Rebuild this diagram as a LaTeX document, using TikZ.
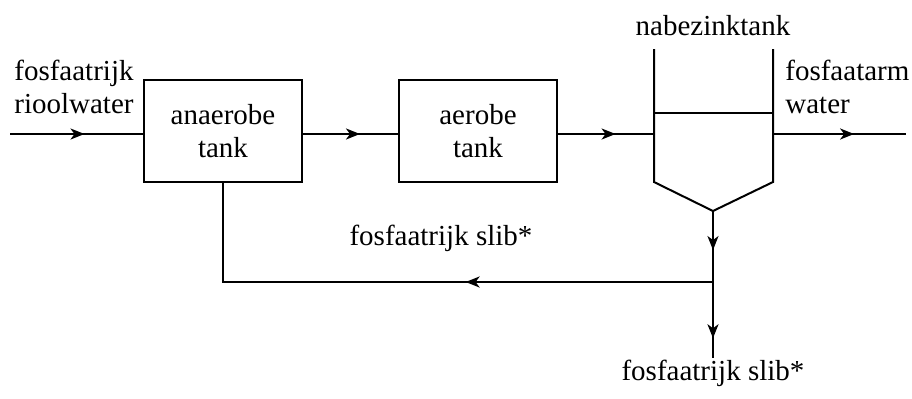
\documentclass[tikz,border=0pt]{standalone}
\usepackage{fontspec}
\setmainfont{Liberation Serif}
\usetikzlibrary{arrows.meta,decorations.markings}
\tikzset{
  tank/.style={draw,line width=1pt,minimum width=79pt,minimum height=51pt,align=center,inner sep=0pt},
  tekst/.style={inner sep=0pt,align=left},
  leiding/.style={line width=1pt},
  pijl/.style={postaction={decorate},decoration={markings,mark=at position #1 with {\arrow{Stealth[length=7pt,width=5.5pt,inset=2pt]}}}}
}
\newcommand{\punt}[2]{\coordinate (#1) at (#2);}

\begin{document}
\begin{tikzpicture}[x=0.5pt,y=-0.5pt,font=\fontsize{14.5}{16.5}\selectfont]
    \useasboundingbox (0,0) rectangle (912,398);
      % tanks
      \node[tank] (ana) at (223,131) {anaerobe\\tank};
      \node[tank] (aer) at (478,131) {aerobe\\tank};

      % nabezinktank
      \punt{nl}{654,49};
      \punt{nr}{773,49};
      \punt{nlb}{654,182};
      \punt{nrb}{773,182};
      \punt{bodem}{713,211};
      \punt{wl}{654,113};
      \punt{wr}{773,113};
      \punt{nin}{654,134};
      \punt{nuit}{773,134};

      \punt{in}{10,134};
      \punt{uit}{906,134};
      \punt{splits}{713,282};
      \punt{slib}{713,358};

      \draw[leiding] (nl)--(nlb)--(bodem)--(nrb)--(nr);
      \draw[leiding] (wl)--(wr);

      \draw[leiding,pijl=0.56] (in) -- (in -| ana.west);
      \draw[leiding,pijl=0.6] (in -| ana.east) -- (in -| aer.west);
      \draw[leiding,pijl=0.6] (in -| aer.east) -- (nin);
      \draw[leiding,pijl=0.61] (nuit) -- (uit);
      \draw[leiding,pijl=0.55] (bodem) -- (splits);
      \draw[leiding,pijl=0.74] (splits) -- (slib);
      \draw[leiding,pijl=0.42] (splits) -- (splits -| ana.south) -- (ana.south);

      % teksten
      \node[tekst,anchor=base west] (influent) at (14,113) {fosfaatrijk\\rioolwater};
      \node[tekst,anchor=base west] (effluent) at (785,113) {fosfaatarm\\water};
      \node[tekst,anchor=base] (nabezink) at (713,35) {nabezinktank};
      \node[tekst,anchor=base] (retour) at (441,245) {fosfaatrijk slib*};
      \node[tekst,anchor=base] (spui) at (713,380) {fosfaatrijk slib*};
  \end{tikzpicture}
\end{document}
